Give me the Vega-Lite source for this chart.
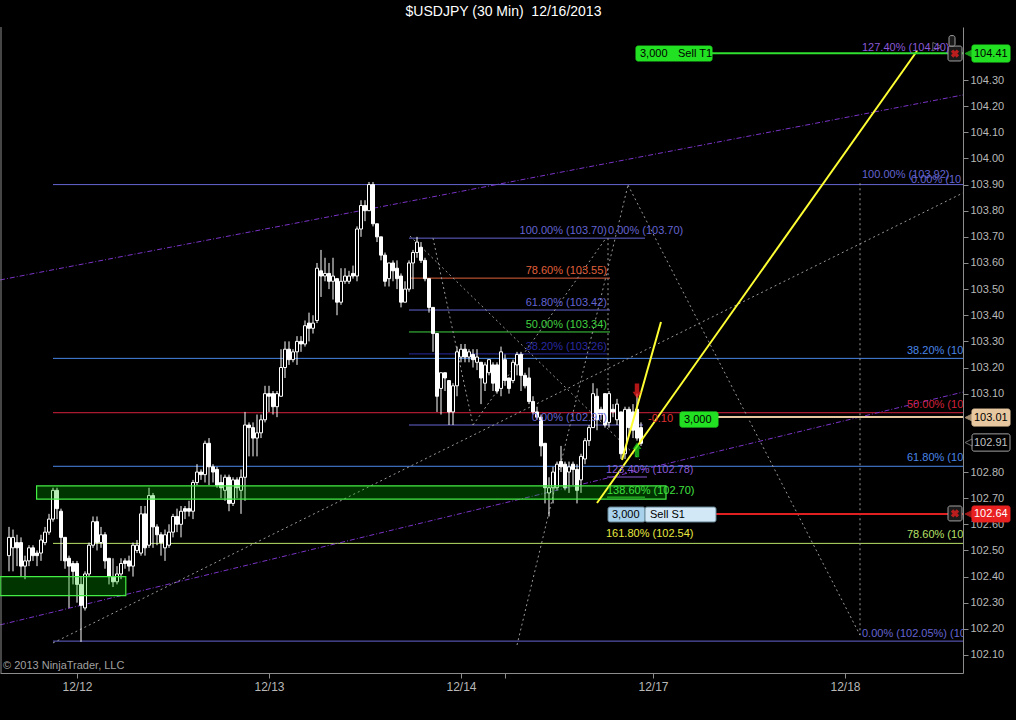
{
"$schema":"https://vega.github.io/schema/vega-lite/v6.json",
"width":963,"height":646,"autosize":{"type":"none"},
"padding":{"left":0,"top":27,"right":53,"bottom":47},
"background":"#000000",
"title":{"text":"$USDJPY (30 Min)\u00a0 12/16/2013","color":"#ffffff","font":"Liberation Sans","fontSize":14,"fontWeight":"normal","offset":8,"anchor":"middle","dx":22},
"config":{"view":{"stroke":null},"text":{"font":"Liberation Sans","fontSize":11},
 "axis":{"grid":false,"domainColor":"#8c8c8c","tickColor":"#8c8c8c","tickSize":5,"labelColor":"#b8b8b8","titleColor":"#000000"}},
"datasets":{
"candles":[
{"i":0,"o":102.48,"h":102.59,"l":102.42,"c":102.55},{"i":1,"o":102.51,"h":102.58,"l":102.42,"c":102.55},{"i":2,"o":102.53,"h":102.56,"l":102.44,"c":102.51},{"i":3,"o":102.53,"h":102.55,"l":102.40,"c":102.44},{"i":4,"o":102.44,"h":102.48,"l":102.39,"c":102.46},{"i":5,"o":102.46,"h":102.52,"l":102.44,"c":102.51},{"i":6,"o":102.51,"h":102.52,"l":102.46,"c":102.48},{"i":7,"o":102.49,"h":102.50,"l":102.44,"c":102.48},{"i":8,"o":102.49,"h":102.56,"l":102.46,"c":102.54},{"i":9,"o":102.53,"h":102.59,"l":102.52,"c":102.57},
{"i":10,"o":102.57,"h":102.64,"l":102.56,"c":102.62},{"i":11,"o":102.62,"h":102.74,"l":102.61,"c":102.73},{"i":12,"o":102.73,"h":102.74,"l":102.62,"c":102.66},{"i":13,"o":102.65,"h":102.66,"l":102.46,"c":102.55},{"i":14,"o":102.55,"h":102.55,"l":102.43,"c":102.46},{"i":15,"o":102.47,"h":102.48,"l":102.28,"c":102.44},{"i":16,"o":102.45,"h":102.46,"l":102.37,"c":102.42},{"i":17,"o":102.45,"h":102.46,"l":102.30,"c":102.37},{"i":18,"o":102.37,"h":102.40,"l":102.15,"c":102.29},{"i":19,"o":102.28,"h":102.42,"l":102.27,"c":102.41},
{"i":20,"o":102.41,"h":102.53,"l":102.40,"c":102.52},{"i":21,"o":102.52,"h":102.63,"l":102.51,"c":102.61},{"i":22,"o":102.61,"h":102.63,"l":102.50,"c":102.53},{"i":23,"o":102.53,"h":102.59,"l":102.51,"c":102.56},{"i":24,"o":102.56,"h":102.57,"l":102.43,"c":102.46},{"i":25,"o":102.47,"h":102.47,"l":102.37,"c":102.40},{"i":26,"o":102.40,"h":102.47,"l":102.36,"c":102.38},{"i":27,"o":102.38,"h":102.44,"l":102.37,"c":102.41},{"i":28,"o":102.41,"h":102.47,"l":102.39,"c":102.45},{"i":29,"o":102.46,"h":102.47,"l":102.43,"c":102.45},
{"i":30,"o":102.46,"h":102.48,"l":102.42,"c":102.44},{"i":31,"o":102.44,"h":102.53,"l":102.40,"c":102.52},{"i":32,"o":102.50,"h":102.54,"l":102.49,"c":102.52},{"i":33,"o":102.49,"h":102.67,"l":102.48,"c":102.64},{"i":34,"o":102.64,"h":102.67,"l":102.48,"c":102.51},{"i":35,"o":102.52,"h":102.74,"l":102.51,"c":102.71},{"i":36,"o":102.71,"h":102.72,"l":102.51,"c":102.59},{"i":37,"o":102.59,"h":102.60,"l":102.52,"c":102.56},{"i":38,"o":102.56,"h":102.57,"l":102.48,"c":102.53},{"i":39,"o":102.51,"h":102.58,"l":102.46,"c":102.56},
{"i":40,"o":102.52,"h":102.60,"l":102.51,"c":102.57},{"i":41,"o":102.57,"h":102.64,"l":102.55,"c":102.63},{"i":42,"o":102.63,"h":102.66,"l":102.57,"c":102.60},{"i":43,"o":102.60,"h":102.67,"l":102.55,"c":102.65},{"i":44,"o":102.66,"h":102.67,"l":102.62,"c":102.65},{"i":45,"o":102.66,"h":102.69,"l":102.63,"c":102.65},{"i":46,"o":102.65,"h":102.77,"l":102.62,"c":102.76},{"i":47,"o":102.76,"h":102.83,"l":102.75,"c":102.80},{"i":48,"o":102.80,"h":102.81,"l":102.77,"c":102.79},{"i":49,"o":102.79,"h":102.92,"l":102.76,"c":102.91},
{"i":50,"o":102.91,"h":102.93,"l":102.75,"c":102.82},{"i":51,"o":102.82,"h":102.83,"l":102.76,"c":102.80},{"i":52,"o":102.81,"h":102.82,"l":102.74,"c":102.75},{"i":53,"o":102.76,"h":102.79,"l":102.70,"c":102.74},{"i":54,"o":102.73,"h":102.79,"l":102.69,"c":102.78},{"i":55,"o":102.78,"h":102.79,"l":102.65,"c":102.68},{"i":56,"o":102.68,"h":102.78,"l":102.67,"c":102.77},{"i":57,"o":102.77,"h":102.78,"l":102.70,"c":102.74},{"i":58,"o":102.73,"h":102.81,"l":102.64,"c":102.78},{"i":59,"o":102.78,"h":103.03,"l":102.69,"c":102.98},
{"i":60,"o":102.98,"h":102.99,"l":102.86,"c":102.97},{"i":61,"o":102.97,"h":102.99,"l":102.86,"c":102.93},{"i":62,"o":102.93,"h":103.02,"l":102.86,"c":102.95},{"i":63,"o":102.95,"h":103.02,"l":102.93,"c":103.00},{"i":64,"o":103.00,"h":103.13,"l":102.99,"c":103.10},{"i":65,"o":103.10,"h":103.13,"l":103.03,"c":103.09},{"i":66,"o":103.10,"h":103.11,"l":103.02,"c":103.05},{"i":67,"o":103.05,"h":103.11,"l":103.01,"c":103.10},{"i":68,"o":103.09,"h":103.27,"l":103.09,"c":103.20},{"i":69,"o":103.20,"h":103.30,"l":103.16,"c":103.27},
{"i":70,"o":103.27,"h":103.30,"l":103.21,"c":103.23},{"i":71,"o":103.23,"h":103.27,"l":103.22,"c":103.26},{"i":72,"o":103.26,"h":103.32,"l":103.21,"c":103.30},{"i":73,"o":103.30,"h":103.32,"l":103.26,"c":103.29},{"i":74,"o":103.29,"h":103.38,"l":103.28,"c":103.36},{"i":75,"o":103.37,"h":103.41,"l":103.30,"c":103.35},{"i":76,"o":103.35,"h":103.40,"l":103.33,"c":103.37},{"i":77,"o":103.38,"h":103.60,"l":103.37,"c":103.58},{"i":78,"o":103.57,"h":103.65,"l":103.47,"c":103.55},{"i":79,"o":103.55,"h":103.62,"l":103.53,"c":103.56},
{"i":80,"o":103.56,"h":103.60,"l":103.50,"c":103.53},{"i":81,"o":103.53,"h":103.62,"l":103.46,"c":103.55},{"i":82,"o":103.54,"h":103.54,"l":103.40,"c":103.45},{"i":83,"o":103.45,"h":103.58,"l":103.44,"c":103.53},{"i":84,"o":103.53,"h":103.58,"l":103.52,"c":103.55},{"i":85,"o":103.53,"h":103.57,"l":103.52,"c":103.55},{"i":86,"o":103.56,"h":103.59,"l":103.54,"c":103.55},{"i":87,"o":103.55,"h":103.74,"l":103.53,"c":103.73},{"i":88,"o":103.73,"h":103.84,"l":103.70,"c":103.82},{"i":89,"o":103.82,"h":103.84,"l":103.76,"c":103.80},
{"i":90,"o":103.80,"h":103.91,"l":103.80,"c":103.90},{"i":91,"o":103.90,"h":103.91,"l":103.74,"c":103.75},{"i":92,"o":103.75,"h":103.75,"l":103.68,"c":103.70},{"i":93,"o":103.70,"h":103.70,"l":103.61,"c":103.63},{"i":94,"o":103.63,"h":103.64,"l":103.51,"c":103.53},{"i":95,"o":103.54,"h":103.60,"l":103.51,"c":103.60},{"i":96,"o":103.60,"h":103.61,"l":103.53,"c":103.57},{"i":97,"o":103.58,"h":103.61,"l":103.50,"c":103.54},{"i":98,"o":103.55,"h":103.56,"l":103.43,"c":103.45},{"i":99,"o":103.45,"h":103.53,"l":103.45,"c":103.50},
{"i":100,"o":103.50,"h":103.61,"l":103.49,"c":103.60},{"i":101,"o":103.60,"h":103.65,"l":103.50,"c":103.64},{"i":102,"o":103.64,"h":103.70,"l":103.62,"c":103.68},{"i":103,"o":103.66,"h":103.68,"l":103.60,"c":103.61},{"i":104,"o":103.61,"h":103.62,"l":103.53,"c":103.54},{"i":105,"o":103.54,"h":103.54,"l":103.41,"c":103.43},{"i":106,"o":103.43,"h":103.43,"l":103.26,"c":103.33},{"i":107,"o":103.33,"h":103.33,"l":103.03,"c":103.09},{"i":108,"o":103.12,"h":103.18,"l":103.02,"c":103.18},{"i":109,"o":103.18,"h":103.18,"l":103.11,"c":103.16},
{"i":110,"o":103.15,"h":103.15,"l":102.98,"c":103.03},{"i":111,"o":103.03,"h":103.14,"l":102.98,"c":103.13},{"i":112,"o":103.13,"h":103.28,"l":103.09,"c":103.26},{"i":113,"o":103.24,"h":103.29,"l":103.22,"c":103.27},{"i":114,"o":103.27,"h":103.29,"l":103.22,"c":103.24},{"i":115,"o":103.24,"h":103.27,"l":103.22,"c":103.26},{"i":116,"o":103.25,"h":103.27,"l":103.20,"c":103.23},{"i":117,"o":103.22,"h":103.27,"l":103.19,"c":103.24},{"i":118,"o":103.22,"h":103.22,"l":103.06,"c":103.16},{"i":119,"o":103.14,"h":103.22,"l":103.11,"c":103.21},
{"i":120,"o":103.18,"h":103.23,"l":103.17,"c":103.23},{"i":121,"o":103.21,"h":103.22,"l":103.11,"c":103.14},{"i":122,"o":103.21,"h":103.22,"l":103.10,"c":103.11},{"i":123,"o":103.12,"h":103.28,"l":103.09,"c":103.26},{"i":124,"o":103.23,"h":103.25,"l":103.13,"c":103.15},{"i":125,"o":103.16,"h":103.16,"l":103.10,"c":103.12},{"i":126,"o":103.15,"h":103.23,"l":103.14,"c":103.22},{"i":127,"o":103.21,"h":103.26,"l":103.17,"c":103.25},{"i":128,"o":103.25,"h":103.26,"l":103.11,"c":103.17},{"i":129,"o":103.17,"h":103.18,"l":103.12,"c":103.13},
{"i":130,"o":103.16,"h":103.20,"l":103.06,"c":103.07},{"i":131,"o":103.07,"h":103.09,"l":103.02,"c":103.03},{"i":132,"o":103.03,"h":103.05,"l":103.00,"c":103.01},{"i":133,"o":103.01,"h":103.02,"l":102.86,"c":102.90},{"i":134,"o":102.91,"h":102.91,"l":102.68,"c":102.74},{"i":135,"o":102.72,"h":102.78,"l":102.63,"c":102.74},{"i":136,"o":102.74,"h":102.82,"l":102.68,"c":102.80},{"i":137,"o":102.74,"h":102.84,"l":102.73,"c":102.83},{"i":138,"o":102.84,"h":102.90,"l":102.80,"c":102.82},{"i":139,"o":102.83,"h":102.84,"l":102.73,"c":102.74},
{"i":140,"o":102.80,"h":102.84,"l":102.72,"c":102.82},{"i":141,"o":102.83,"h":102.84,"l":102.75,"c":102.81},{"i":142,"o":102.81,"h":102.83,"l":102.68,"c":102.73},{"i":143,"o":102.77,"h":102.87,"l":102.72,"c":102.86},{"i":144,"o":102.85,"h":102.93,"l":102.83,"c":102.92},{"i":145,"o":102.92,"h":102.98,"l":102.90,"c":102.97},{"i":146,"o":102.97,"h":103.14,"l":102.97,"c":103.10},{"i":147,"o":103.09,"h":103.12,"l":102.96,"c":103.00},{"i":148,"o":103.04,"h":103.05,"l":103.00,"c":103.02},{"i":149,"o":103.10,"h":103.10,"l":102.97,"c":102.98},
{"i":150,"o":102.99,"h":103.11,"l":102.97,"c":103.10},{"i":151,"o":103.04,"h":103.06,"l":103.01,"c":103.03},{"i":152,"o":103.00,"h":103.08,"l":102.98,"c":103.06},{"i":153,"o":103.03,"h":103.03,"l":102.85,"c":102.87},{"i":154,"o":102.87,"h":103.05,"l":102.85,"c":103.04},{"i":155,"o":103.04,"h":103.05,"l":102.94,"c":102.97},{"i":156,"o":103.03,"h":103.06,"l":102.93,"c":102.96},{"i":157,"o":103.04,"h":103.10,"l":102.92,"c":102.93},{"i":158,"o":102.97,"h":102.99,"l":102.90,"c":102.91}
],
"lines":[
{"g":"solid","s":"fibA","x":11,"x2":238.5,"y":103.90,"y2":103.90},
{"g":"solid","s":"fibB","x":11,"x2":238.5,"y":103.235,"y2":103.235},
{"g":"solid","s":"fibC","x":11,"x2":238.5,"y":103.027,"y2":103.027},
{"g":"solid","s":"fibB","x":11,"x2":238.5,"y":102.822,"y2":102.822},
{"g":"solid","s":"fibD","x":11,"x2":238.5,"y":102.527,"y2":102.527},
{"g":"solid","s":"fibA","x":11,"x2":238.5,"y":102.153,"y2":102.153},
{"g":"solid","s":"fibA","x":100,"x2":159,"y":103.695,"y2":103.695},
{"g":"solid","s":"m786","x":100,"x2":150.25,"y":103.542,"y2":103.542},
{"g":"solid","s":"fibA","x":100,"x2":150.25,"y":103.42,"y2":103.42},
{"g":"solid","s":"m500","x":100,"x2":150.25,"y":103.336,"y2":103.336},
{"g":"solid","s":"m382","x":100,"x2":149.5,"y":103.252,"y2":103.252},
{"g":"solid","s":"fibA","x":100,"x2":158.5,"y":102.98,"y2":102.98},
{"g":"solid","s":"ext","x":149.5,"x2":159.5,"y":102.781,"y2":102.781},
{"g":"solid","s":"ext138","x":149.5,"x2":159,"y":102.704,"y2":102.704},
{"g":"dash","s":"chan","x":-2.25,"x2":238.5,"y":103.535,"y2":104.243},
{"g":"dash","s":"chan","x":-2.25,"x2":238.5,"y":102.215,"y2":103.106},
{"g":"dot","s":"dot","x":11,"x2":238.5,"y":102.146,"y2":103.868},
{"g":"dot","s":"dot","x":100.25,"x2":157.75,"y":103.703,"y2":102.846},
{"g":"dot","s":"dot","x":106,"x2":116,"y":103.695,"y2":102.98},
{"g":"dot","s":"dot","x":116,"x2":149.25,"y":102.98,"y2":103.695},
{"g":"dot","s":"dot","x":149.75,"x2":149.75,"y":103.695,"y2":102.98},
{"g":"dot","s":"dot","x":127,"x2":154.75,"y":102.138,"y2":103.898},
{"g":"dot","s":"dot","x":154.75,"x2":212.75,"y":103.898,"y2":102.176},
{"g":"dot","s":"dot","x":212.75,"x2":212.75,"y":103.905,"y2":102.176},
{"g":"thick","s":"yel","x":153.25,"x2":163,"y":102.846,"y2":103.374},
{"g":"thick","s":"yel","x":147,"x2":227,"y":102.6815,"y2":104.411},
{"g":"thick","s":"t1","x":175.75,"x2":238.5,"y":104.403,"y2":104.403},
{"g":"thick","s":"s1","x":176.75,"x2":238.5,"y":102.639,"y2":102.639},
{"g":"thick","s":"pos","x":177.25,"x2":238.5,"y":103.011,"y2":103.011}
],
"frame":[{"x":-2.0}],
"zones":[
{"x":6.9,"x2":164.25,"y":102.747,"y2":102.696},
{"x":-2.25,"x2":29.2,"y":102.3995,"y2":102.327}
],
"boxes":[
{"b":"t1box","x":156.75,"x2":175.75,"y":104.43,"y2":104.373},
{"b":"posbox","x":167.75,"x2":177.25,"y":103.03,"y2":102.972},
{"b":"s1a","x":149.75,"x2":159,"y":102.666,"y2":102.609},
{"b":"s1b","x":159,"x2":176.75,"y":102.666,"y2":102.609},
{"b":"m1","x":240.75,"x2":250.25,"y":104.434,"y2":104.369},
{"b":"m2","x":240.75,"x2":250.25,"y":103.041,"y2":102.976},
{"b":"m3","x":240.75,"x2":250.25,"y":102.946,"y2":102.88},
{"b":"m4","x":240.75,"x2":250.25,"y":102.670,"y2":102.609},
{"b":"xb","x":234.75,"x2":238.25,"y":104.43,"y2":104.373},
{"b":"xb","x":234.75,"x2":238.25,"y":102.670,"y2":102.613},
{"b":"xb","x":235,"x2":236.5,"y":104.47,"y2":104.43}
],
"pointers":[
{"b":"m1","x":239.9,"y":104.4015},{"b":"m2","x":239.9,"y":103.0085},{"b":"m3","x":239.9,"y":102.913},{"b":"m4","x":239.9,"y":102.6395}
],
"labels":[
{"g":"R","s":"fibA","x":149.5,"y":103.722,"t":"100.00% (103.70)"},
{"g":"R","s":"m786","x":149.5,"y":103.569,"t":"78.60% (103.55)"},
{"g":"R","s":"fibA","x":149.5,"y":103.447,"t":"61.80% (103.42)"},
{"g":"R","s":"m500","x":149.5,"y":103.363,"t":"50.00% (103.34)"},
{"g":"R","s":"m382","x":149.5,"y":103.278,"t":"38.20% (103.26)"},
{"g":"R","s":"fibA","x":149.5,"y":103.007,"t":"0.00% (102.97)"},
{"g":"L","s":"fibA","x":149.75,"y":103.722,"t":"0.00% (103.70)"},
{"g":"L","s":"ext","x":149.25,"y":102.808,"t":"123.40% (102.78)"},
{"g":"L","s":"ext138","x":149.5,"y":102.727,"t":"138.60% (102.70)"},
{"g":"L","s":"ext161","x":149.25,"y":102.563,"t":"161.80% (102.54)"},
{"g":"L","s":"ext","x":213.25,"y":104.422,"t":"127.40% (104.40)"},
{"g":"L","s":"fibA","x":213.25,"y":103.936,"t":"100.00% (103.92)"},
{"g":"L","s":"fibA","x":225.5,"y":103.918,"t":"0.00% (10"},
{"g":"L","s":"fibA","x":213.25,"y":102.18,"t":"0.00% (102.05%) (10"},
{"g":"L","s":"fibB","x":224.5,"y":103.263,"t":"38.20% (10"},
{"g":"L","s":"fibC","x":224.5,"y":103.056,"t":"50.00% (10"},
{"g":"L","s":"fibB","x":224.5,"y":102.854,"t":"61.80% (10"},
{"g":"L","s":"fibD","x":224.5,"y":102.559,"t":"78.60% (10"},
{"g":"L","s":"neg","x":159.75,"y":103.003,"t":"-0.10"},
{"g":"L","s":"blk","x":157.75,"y":104.4015,"t":"3,000"},
{"g":"L","s":"blk","x":167.25,"y":104.4015,"t":"Sell T1"},
{"g":"L","s":"blk","x":168.75,"y":103.001,"t":"3,000"},
{"g":"L","s":"blk","x":150.75,"y":102.6375,"t":"3,000"},
{"g":"L","s":"blk","x":160.25,"y":102.6375,"t":"Sell S1"},
{"g":"M","s":"blk","x":241.25,"y":104.4015,"t":"104.41"},
{"g":"M","s":"blk","x":241.25,"y":103.0085,"t":"103.01"},
{"g":"M","s":"gry","x":241.25,"y":102.913,"t":"102.91"},
{"g":"M","s":"wht","x":241.25,"y":102.6395,"t":"102.64"},
{"g":"C","s":"cpy","x":-1.5,"y":102.058,"t":"© 2013 NinjaTrader, LLC"}
],
"arrows":[{"d":"down","x":157,"y":103.11},{"d":"up","x":157,"y":102.885}],
"crosses":[{"x":236.5,"y":104.4015},{"x":236.5,"y":102.6415}],
"handles":[{"x":232,"y":104.428}]
},
"layer":[
{"data":{"name":"candles"},
 "mark":{"type":"rule","color":"#ffffff","strokeWidth":1,"opacity":0},
 "encoding":{
  "x":{"field":"i","type":"quantitative","title":null,"scale":{"domain":[-2.25,238.5],"nice":false,"zero":false,"padding":0},
   "axis":{"title":null,"values":[17,65,113,124,161,209],"tickCount":40,"labelExpr":"datum.value == 17 ? '12/12' : datum.value == 65 ? '12/13' : datum.value == 113 ? '12/14' : datum.value == 161 ? '12/17' : datum.value == 209 ? '12/18' : ''","grid":false,"domainColor":"#8c8c8c","tickColor":"#8c8c8c","tickSize":5,"labelColor":"#b8b8b8","labelFont":"Liberation Sans Narrow, Liberation Sans, sans-serif","labelFontSize":12,"labelPadding":3,"labelOverlap":false}},
  "y":{"field":"l","type":"quantitative","title":null,"scale":{"domain":[102.031,104.503],"nice":false,"zero":false,"padding":0},
   "axis":{"title":null,"orient":"right","values":[102.1,102.2,102.3,102.4,102.5,102.6,102.7,102.8,103.1,103.2,103.3,103.4,103.5,103.6,103.7,103.8,103.9,104.0,104.1,104.2,104.3],"tickCount":40,"format":".2f","grid":false,"domainColor":"#8c8c8c","tickColor":"#8c8c8c","tickSize":5,"labelColor":"#b8b8b8","labelFont":"Liberation Sans","labelFontSize":11,"labelPadding":2,"labelOverlap":false,"labelBound":false}},
  "y2":{"field":"h"}
 }},
{"data":{"name":"lines"},"transform":[{"filter":"datum.g == 'solid'"}],
 "mark":{"type":"rule","strokeWidth":1},
 "encoding":{
  "x":{"field":"x","type":"quantitative","title":null,"scale":{"domain":[-2.25,238.5],"nice":false,"zero":false,"padding":0}},
  "x2":{"field":"x2"},
  "y":{"field":"y","type":"quantitative","title":null,"scale":{"domain":[102.031,104.503],"nice":false,"zero":false,"padding":0}},
  "y2":{"field":"y2"},
  "color":{"field":"s","type":"nominal","legend":null,"scale":{"domain":["fibA","fibB","fibC","fibD","m786","m500","m382","ext","ext138","ext161","chan","dot","yel","t1","s1","pos","neg","blk","gry","wht","cpy"],"range":["#6464d2","#4a86e8","#d2203c","#b8e068","#e0603c","#40d040","#2a2aa0","#8a5ad8","#40e040","#e8e840","#7a34c8","#9a9a9a","#ffff33","#30e030","#e02020","#e8c8a0","#e03030","#000000","#c0c0c0","#ffffff","#a0a0a0"]}}
 }},
{"data":{"name":"lines"},"transform":[{"filter":"datum.g == 'dash'"}],
 "mark":{"type":"rule","strokeWidth":1,"strokeDash":[5,2,1,2]},
 "encoding":{
  "x":{"field":"x","type":"quantitative","title":null,"scale":{"domain":[-2.25,238.5],"nice":false,"zero":false,"padding":0}},
  "x2":{"field":"x2"},
  "y":{"field":"y","type":"quantitative","title":null,"scale":{"domain":[102.031,104.503],"nice":false,"zero":false,"padding":0}},
  "y2":{"field":"y2"},
  "color":{"field":"s","type":"nominal","legend":null,"scale":{"domain":["fibA","fibB","fibC","fibD","m786","m500","m382","ext","ext138","ext161","chan","dot","yel","t1","s1","pos","neg","blk","gry","wht","cpy"],"range":["#6464d2","#4a86e8","#d2203c","#b8e068","#e0603c","#40d040","#2a2aa0","#8a5ad8","#40e040","#e8e840","#7a34c8","#9a9a9a","#ffff33","#30e030","#e02020","#e8c8a0","#e03030","#000000","#c0c0c0","#ffffff","#a0a0a0"]}}
 }},
{"data":{"name":"lines"},"transform":[{"filter":"datum.g == 'dot'"}],
 "mark":{"type":"rule","strokeWidth":1,"strokeDash":[2,3]},
 "encoding":{
  "x":{"field":"x","type":"quantitative","title":null,"scale":{"domain":[-2.25,238.5],"nice":false,"zero":false,"padding":0}},
  "x2":{"field":"x2"},
  "y":{"field":"y","type":"quantitative","title":null,"scale":{"domain":[102.031,104.503],"nice":false,"zero":false,"padding":0}},
  "y2":{"field":"y2"},
  "color":{"field":"s","type":"nominal","legend":null,"scale":{"domain":["fibA","fibB","fibC","fibD","m786","m500","m382","ext","ext138","ext161","chan","dot","yel","t1","s1","pos","neg","blk","gry","wht","cpy"],"range":["#6464d2","#4a86e8","#d2203c","#b8e068","#e0603c","#40d040","#2a2aa0","#8a5ad8","#40e040","#e8e840","#7a34c8","#9a9a9a","#ffff33","#30e030","#e02020","#e8c8a0","#e03030","#000000","#c0c0c0","#ffffff","#a0a0a0"]}}
 }},
{"data":{"name":"frame"},
 "mark":{"type":"rule","color":"#8c8c8c","strokeWidth":1},
 "encoding":{"x":{"field":"x","type":"quantitative","title":null,"scale":{"domain":[-2.25,238.5],"nice":false,"zero":false,"padding":0}}}},
{"data":{"name":"candles"},
 "mark":{"type":"rule","color":"#ffffff","strokeWidth":1},
 "encoding":{
  "x":{"field":"i","type":"quantitative","title":null,"scale":{"domain":[-2.25,238.5],"nice":false,"zero":false,"padding":0}},
  "y":{"field":"l","type":"quantitative","title":null,"scale":{"domain":[102.031,104.503],"nice":false,"zero":false,"padding":0}},
  "y2":{"field":"h"}
 }},
{"data":{"name":"candles"},
 "mark":{"type":"bar","size":3,"stroke":"#ffffff","strokeWidth":1,"orient":"vertical"},
 "encoding":{
  "x":{"field":"i","type":"quantitative","title":null,"scale":{"domain":[-2.25,238.5],"nice":false,"zero":false,"padding":0}},
  "y":{"field":"o","type":"quantitative","title":null,"scale":{"domain":[102.031,104.503],"nice":false,"zero":false,"padding":0}},
  "y2":{"field":"c"},
  "fill":{"condition":{"test":"datum.c < datum.o","value":"#ffffff"},"value":"#000000"}
 }},
{"data":{"name":"zones"},
 "mark":{"type":"rect","fill":"#00c000","fillOpacity":0.28,"stroke":"#44ee44","strokeWidth":1.2},
 "encoding":{
  "x":{"field":"x","type":"quantitative","title":null,"scale":{"domain":[-2.25,238.5],"nice":false,"zero":false,"padding":0}},
  "x2":{"field":"x2"},
  "y":{"field":"y","type":"quantitative","title":null,"scale":{"domain":[102.031,104.503],"nice":false,"zero":false,"padding":0}},
  "y2":{"field":"y2"}
 }},
{"data":{"name":"lines"},"transform":[{"filter":"datum.g == 'thick'"}],
 "mark":{"type":"rule","strokeWidth":2},
 "encoding":{
  "x":{"field":"x","type":"quantitative","title":null,"scale":{"domain":[-2.25,238.5],"nice":false,"zero":false,"padding":0}},
  "x2":{"field":"x2"},
  "y":{"field":"y","type":"quantitative","title":null,"scale":{"domain":[102.031,104.503],"nice":false,"zero":false,"padding":0}},
  "y2":{"field":"y2"},
  "color":{"field":"s","type":"nominal","legend":null,"scale":{"domain":["fibA","fibB","fibC","fibD","m786","m500","m382","ext","ext138","ext161","chan","dot","yel","t1","s1","pos","neg","blk","gry","wht","cpy"],"range":["#6464d2","#4a86e8","#d2203c","#b8e068","#e0603c","#40d040","#2a2aa0","#8a5ad8","#40e040","#e8e840","#7a34c8","#9a9a9a","#ffff33","#30e030","#e02020","#e8c8a0","#e03030","#000000","#c0c0c0","#ffffff","#a0a0a0"]}}
 }},
{"data":{"name":"boxes"},
 "mark":{"type":"rect","strokeWidth":1,"cornerRadius":2},
 "encoding":{
  "x":{"field":"x","type":"quantitative","title":null,"scale":{"domain":[-2.25,238.5],"nice":false,"zero":false,"padding":0}},
  "x2":{"field":"x2"},
  "y":{"field":"y","type":"quantitative","title":null,"scale":{"domain":[102.031,104.503],"nice":false,"zero":false,"padding":0}},
  "y2":{"field":"y2"},
  "fill":{"field":"b","type":"nominal","legend":null,"scale":{"domain":["t1box","posbox","s1a","s1b","m1","m2","m3","m4","xb"],"range":["#22e022","#22e022","#a8d2ec","#d2e8f6","#22e022","#e8c8a0","#000000","#e82020","#1a1a1a"]}},
  "stroke":{"field":"b","type":"nominal","legend":null,"scale":{"domain":["t1box","posbox","s1a","s1b","m1","m2","m3","m4","xb"],"range":["#22e022","#22e022","#6a8a9a","#6a8a9a","#22e022","#e8c8a0","#a0a0a0","#e82020","#a0a0a0"]}}
 }},
{"data":{"name":"pointers"},
 "mark":{"type":"point","shape":"M1,-1L-1,0L1,1Z","size":50,"filled":true,"strokeWidth":1},
 "encoding":{
  "x":{"field":"x","type":"quantitative","title":null,"scale":{"domain":[-2.25,238.5],"nice":false,"zero":false,"padding":0}},
  "y":{"field":"y","type":"quantitative","title":null,"scale":{"domain":[102.031,104.503],"nice":false,"zero":false,"padding":0}},
  "fill":{"field":"b","type":"nominal","legend":null,"scale":{"domain":["t1box","posbox","s1a","s1b","m1","m2","m3","m4","xb"],"range":["#22e022","#22e022","#a8d2ec","#d2e8f6","#22e022","#e8c8a0","#000000","#e82020","#1a1a1a"]}},
  "stroke":{"field":"b","type":"nominal","legend":null,"scale":{"domain":["t1box","posbox","s1a","s1b","m1","m2","m3","m4","xb"],"range":["#22e022","#22e022","#6a8a9a","#6a8a9a","#22e022","#e8c8a0","#a0a0a0","#e82020","#a0a0a0"]}}
 }},
{"data":{"name":"crosses"},
 "mark":{"type":"point","shape":"cross","angle":45,"size":70,"filled":true,"color":"#ff2020"},
 "encoding":{
  "x":{"field":"x","type":"quantitative","title":null,"scale":{"domain":[-2.25,238.5],"nice":false,"zero":false,"padding":0}},
  "y":{"field":"y","type":"quantitative","title":null,"scale":{"domain":[102.031,104.503],"nice":false,"zero":false,"padding":0}}
 }},
{"data":{"name":"handles"},
 "mark":{"type":"point","shape":"M-1,-1L1,0L-1,1Z","size":70,"filled":false,"color":"#8c8c8c","strokeWidth":1},
 "encoding":{
  "x":{"field":"x","type":"quantitative","title":null,"scale":{"domain":[-2.25,238.5],"nice":false,"zero":false,"padding":0}},
  "y":{"field":"y","type":"quantitative","title":null,"scale":{"domain":[102.031,104.503],"nice":false,"zero":false,"padding":0}}
 }},
{"data":{"name":"arrows"},"transform":[{"filter":"datum.d == 'down'"}],
 "mark":{"type":"point","shape":"M-0.3,-1L0.3,-1L0.3,0.1L0.6,0.1L0,1L-0.6,0.1L-0.3,0.1Z","size":220,"filled":true,"color":"#ff2020"},
 "encoding":{
  "x":{"field":"x","type":"quantitative","title":null,"scale":{"domain":[-2.25,238.5],"nice":false,"zero":false,"padding":0}},
  "y":{"field":"y","type":"quantitative","title":null,"scale":{"domain":[102.031,104.503],"nice":false,"zero":false,"padding":0}}
 }},
{"data":{"name":"arrows"},"transform":[{"filter":"datum.d == 'up'"}],
 "mark":{"type":"point","shape":"M-0.3,1L0.3,1L0.3,-0.1L0.6,-0.1L0,-1L-0.6,-0.1L-0.3,-0.1Z","size":220,"filled":true,"color":"#20e020"},
 "encoding":{
  "x":{"field":"x","type":"quantitative","title":null,"scale":{"domain":[-2.25,238.5],"nice":false,"zero":false,"padding":0}},
  "y":{"field":"y","type":"quantitative","title":null,"scale":{"domain":[102.031,104.503],"nice":false,"zero":false,"padding":0}}
 }},
{"data":{"name":"labels"},"transform":[{"filter":"datum.g == 'R'"}],
 "mark":{"type":"text","align":"right","baseline":"middle","fontSize":11},
 "encoding":{
  "x":{"field":"x","type":"quantitative","title":null,"scale":{"domain":[-2.25,238.5],"nice":false,"zero":false,"padding":0}},
  "y":{"field":"y","type":"quantitative","title":null,"scale":{"domain":[102.031,104.503],"nice":false,"zero":false,"padding":0}},
  "text":{"field":"t"},
  "color":{"field":"s","type":"nominal","legend":null,"scale":{"domain":["fibA","fibB","fibC","fibD","m786","m500","m382","ext","ext138","ext161","chan","dot","yel","t1","s1","pos","neg","blk","gry","wht","cpy"],"range":["#6464d2","#4a86e8","#d2203c","#b8e068","#e0603c","#40d040","#2a2aa0","#8a5ad8","#40e040","#e8e840","#7a34c8","#9a9a9a","#ffff33","#30e030","#e02020","#e8c8a0","#e03030","#000000","#c0c0c0","#ffffff","#a0a0a0"]}}
 }},
{"data":{"name":"labels"},"transform":[{"filter":"datum.g == 'L'"}],
 "mark":{"type":"text","align":"left","baseline":"middle","fontSize":11,"clip":true},
 "encoding":{
  "x":{"field":"x","type":"quantitative","title":null,"scale":{"domain":[-2.25,238.5],"nice":false,"zero":false,"padding":0}},
  "y":{"field":"y","type":"quantitative","title":null,"scale":{"domain":[102.031,104.503],"nice":false,"zero":false,"padding":0}},
  "text":{"field":"t"},
  "color":{"field":"s","type":"nominal","legend":null,"scale":{"domain":["fibA","fibB","fibC","fibD","m786","m500","m382","ext","ext138","ext161","chan","dot","yel","t1","s1","pos","neg","blk","gry","wht","cpy"],"range":["#6464d2","#4a86e8","#d2203c","#b8e068","#e0603c","#40d040","#2a2aa0","#8a5ad8","#40e040","#e8e840","#7a34c8","#9a9a9a","#ffff33","#30e030","#e02020","#e8c8a0","#e03030","#000000","#c0c0c0","#ffffff","#a0a0a0"]}}
 }},
{"data":{"name":"labels"},"transform":[{"filter":"datum.g == 'M'"}],
 "mark":{"type":"text","align":"left","baseline":"middle","fontSize":11},
 "encoding":{
  "x":{"field":"x","type":"quantitative","title":null,"scale":{"domain":[-2.25,238.5],"nice":false,"zero":false,"padding":0}},
  "y":{"field":"y","type":"quantitative","title":null,"scale":{"domain":[102.031,104.503],"nice":false,"zero":false,"padding":0}},
  "text":{"field":"t"},
  "color":{"field":"s","type":"nominal","legend":null,"scale":{"domain":["fibA","fibB","fibC","fibD","m786","m500","m382","ext","ext138","ext161","chan","dot","yel","t1","s1","pos","neg","blk","gry","wht","cpy"],"range":["#6464d2","#4a86e8","#d2203c","#b8e068","#e0603c","#40d040","#2a2aa0","#8a5ad8","#40e040","#e8e840","#7a34c8","#9a9a9a","#ffff33","#30e030","#e02020","#e8c8a0","#e03030","#000000","#c0c0c0","#ffffff","#a0a0a0"]}}
 }},
{"data":{"name":"labels"},"transform":[{"filter":"datum.g == 'C'"}],
 "mark":{"type":"text","align":"left","baseline":"middle","fontSize":11,"font":"Liberation Sans Narrow, Liberation Sans, sans-serif"},
 "encoding":{
  "x":{"field":"x","type":"quantitative","title":null,"scale":{"domain":[-2.25,238.5],"nice":false,"zero":false,"padding":0}},
  "y":{"field":"y","type":"quantitative","title":null,"scale":{"domain":[102.031,104.503],"nice":false,"zero":false,"padding":0}},
  "text":{"field":"t"},
  "color":{"field":"s","type":"nominal","legend":null,"scale":{"domain":["fibA","fibB","fibC","fibD","m786","m500","m382","ext","ext138","ext161","chan","dot","yel","t1","s1","pos","neg","blk","gry","wht","cpy"],"range":["#6464d2","#4a86e8","#d2203c","#b8e068","#e0603c","#40d040","#2a2aa0","#8a5ad8","#40e040","#e8e840","#7a34c8","#9a9a9a","#ffff33","#30e030","#e02020","#e8c8a0","#e03030","#000000","#c0c0c0","#ffffff","#a0a0a0"]}}
 }}
]
}
